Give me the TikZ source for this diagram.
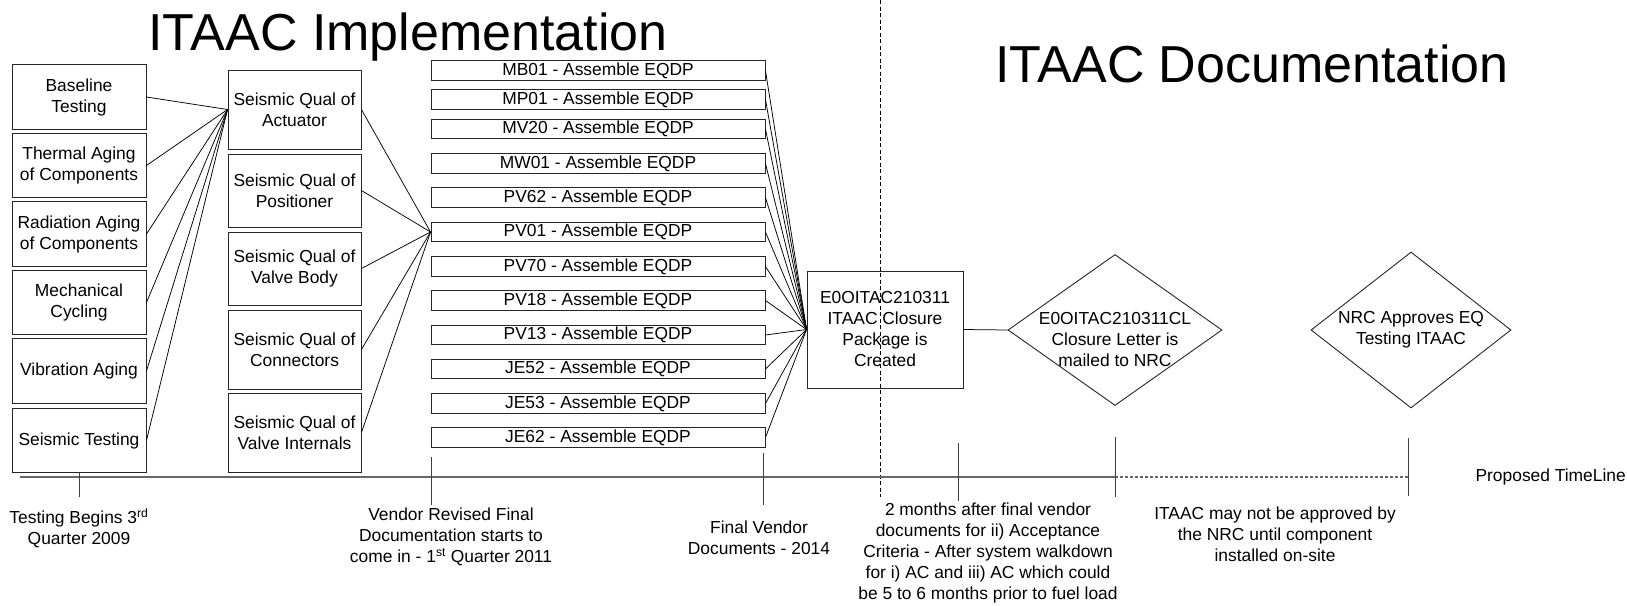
\documentclass[tikz,border=0pt]{standalone}
\usepackage{fontspec}
\setmainfont{Liberation Sans}
\usetikzlibrary{shapes.geometric}
\begin{document}
\begin{tikzpicture}[x=1pt,y=-1pt,
  txt/.style={font=\fontsize{17.4}{21}\selectfont, align=center, inner sep=0pt},
  title/.style={font=\fontsize{52}{60}\selectfont, anchor=base, inner sep=0pt},
  box/.style={txt, draw=black!85, line width=0.9pt},
  testbox/.style={box, minimum width=134pt, minimum height=64.5pt},
  qualbox/.style={box, minimum width=133pt},
  eqdpbox/.style={box, minimum width=334pt, minimum height=19.5pt},
  decision/.style={draw=black!85, line width=0.9pt, shape=diamond, inner sep=0pt},
  link/.style={draw=black, line width=0.75pt},
  tickline/.style={draw=black!75, line width=1pt},
  timeline/.style={draw=black!60, line width=1.8pt},
  future/.style={draw=black!60, line width=1.2pt, dash pattern=on 3pt off 2pt},
  divider/.style={draw=black, line width=0.9pt, dash pattern=on 4pt off 2.5pt}]
\useasboundingbox (0,0) rectangle (1627,605);

% section titles
\node[title] (t1) at (408,50) {ITAAC Implementation};
\node[title] (t2) at (1252,82) {ITAAC Documentation};

% divider between implementation and documentation
\coordinate (dvtop) at (880,0);
\coordinate (dvbot) at (880,497);
\draw[divider] (dvtop) -- (dvbot);

% test program boxes
\node[testbox] (b1) at (79,97)    {Baseline\\Testing};
\node[testbox] (b2) at (79,165.5) {Thermal Aging\\of Components};
\node[testbox] (b3) at (79,234)   {Radiation Aging\\of Components};
\node[testbox] (b4) at (79,302.5) {Mechanical\\Cycling};
\node[testbox] (b5) at (79,371)   {Vibration Aging};
\node[testbox] (b6) at (79,440.5) {Seismic Testing};

% seismic qualification boxes
\node[qualbox, minimum height=79pt] (m1) at (294.5,109.5) {Seismic Qual of\\Actuator};
\node[qualbox, minimum height=73pt] (m2) at (294.5,190.5) {Seismic Qual of\\Positioner};
\node[qualbox, minimum height=73pt] (m3) at (294.5,268.5) {Seismic Qual of\\Valve Body};
\node[qualbox, minimum height=79pt] (m4) at (294.5,349.5) {Seismic Qual of\\Connectors};
\node[qualbox, minimum height=79pt] (m5) at (294.5,432.5) {Seismic Qual of\\Valve Internals};

% EQDP assembly boxes
\node[eqdpbox] (e1)  at (598,70.5)  {MB01 - Assemble EQDP};
\node[eqdpbox] (e2)  at (598,99.5)  {MP01 - Assemble EQDP};
\node[eqdpbox] (e3)  at (598,129)   {MV20 - Assemble EQDP};
\node[eqdpbox] (e4)  at (598,163.5) {MW01 - Assemble EQDP};
\node[eqdpbox] (e5)  at (598,197.5) {PV62 - Assemble EQDP};
\node[eqdpbox] (e6)  at (598,232)   {PV01 - Assemble EQDP};
\node[eqdpbox] (e7)  at (598,266.5) {PV70 - Assemble EQDP};
\node[eqdpbox] (e8)  at (598,300.5) {PV18 - Assemble EQDP};
\node[eqdpbox] (e9)  at (598,335)   {PV13 - Assemble EQDP};
\node[eqdpbox] (e10) at (598,369)   {JE52 - Assemble EQDP};
\node[eqdpbox] (e11) at (598,403.5) {JE53 - Assemble EQDP};
\node[eqdpbox] (e12) at (598,437.5) {JE62 - Assemble EQDP};

% closure package and NRC steps
\node[box, minimum width=156pt, minimum height=117pt] (cl) at (885,329.5)
  {E0OITAC210311\\ITAAC Closure\\Package is\\Created};
\node[decision, minimum width=214pt, minimum height=151pt] (d1) at (1115,330) {};
\node[txt] (d1t) at (1115,340) {E0OITAC210311CL\\Closure Letter is\\mailed to NRC};
\node[decision, minimum width=200pt, minimum height=156pt] (d2) at (1411,330) {};
\node[txt] (d2t) at (1411,330) {NRC Approves EQ\\Testing ITAAC};

% connectors
\foreach \b in {b1,b2,b3,b4,b5,b6} \draw[link] (\b.east) -- (m1.west);
\foreach \m in {m1,m2,m3,m4,m5} \draw[link] (\m.east) -- (e6.west);
\foreach \e in {e1,e2,e3,e4,e5,e6,e7,e8,e9,e10,e11,e12} \draw[link] (\e.east) -- (cl.west);
\draw[link] (cl.east) -- (d1.west);

% proposed timeline
\coordinate (tl0) at (20,477);
\coordinate (tl1) at (1115,477);
\coordinate (tl2) at (1408,477);
\draw[timeline] (tl0) -- (tl1);
\draw[future] (tl1) -- (tl2);
\node[txt, anchor=east] (tlname) at (1626,477) {Proposed TimeLine};

% timeline milestones
\coordinate (k1) at (79,497);
\coordinate (k2a) at (431,457);  \coordinate (k2b) at (431,505);
\coordinate (k3a) at (763,453);  \coordinate (k3b) at (763,505);
\coordinate (k4a) at (958,443);  \coordinate (k4b) at (958,501);
\coordinate (k5a) at (1115,437); \coordinate (k5b) at (1115,497);
\coordinate (k6a) at (1408,438); \coordinate (k6b) at (1408,496);
\draw[tickline] (b6.south) -- (k1);
\draw[tickline] (k2a) -- (k2b);
\draw[tickline] (k3a) -- (k3b);
\draw[tickline] (k4a) -- (k4b);
\draw[tickline] (k5a) -- (k5b);
\draw[tickline] (k6a) -- (k6b);

% milestone notes
\node[txt] (n1) at (79,528) {Testing Begins 3\textsuperscript{rd}\\Quarter 2009};
\node[txt] (n2) at (451,537) {Vendor Revised Final\\Documentation starts to\\come in - 1\textsuperscript{st} Quarter 2011};
\node[txt] (n3) at (759,538) {Final Vendor\\Documents - 2014};
\node[txt] (n4) at (988,553) {2 months after final vendor\\documents for ii) Acceptance\\Criteria - After system walkdown\\for i) AC and iii) AC which could\\be 5 to 6 months prior to fuel load};
\node[txt] (n5) at (1275,534) {ITAAC may not be approved by\\the NRC until component\\installed on-site};
\end{tikzpicture}
\end{document}
